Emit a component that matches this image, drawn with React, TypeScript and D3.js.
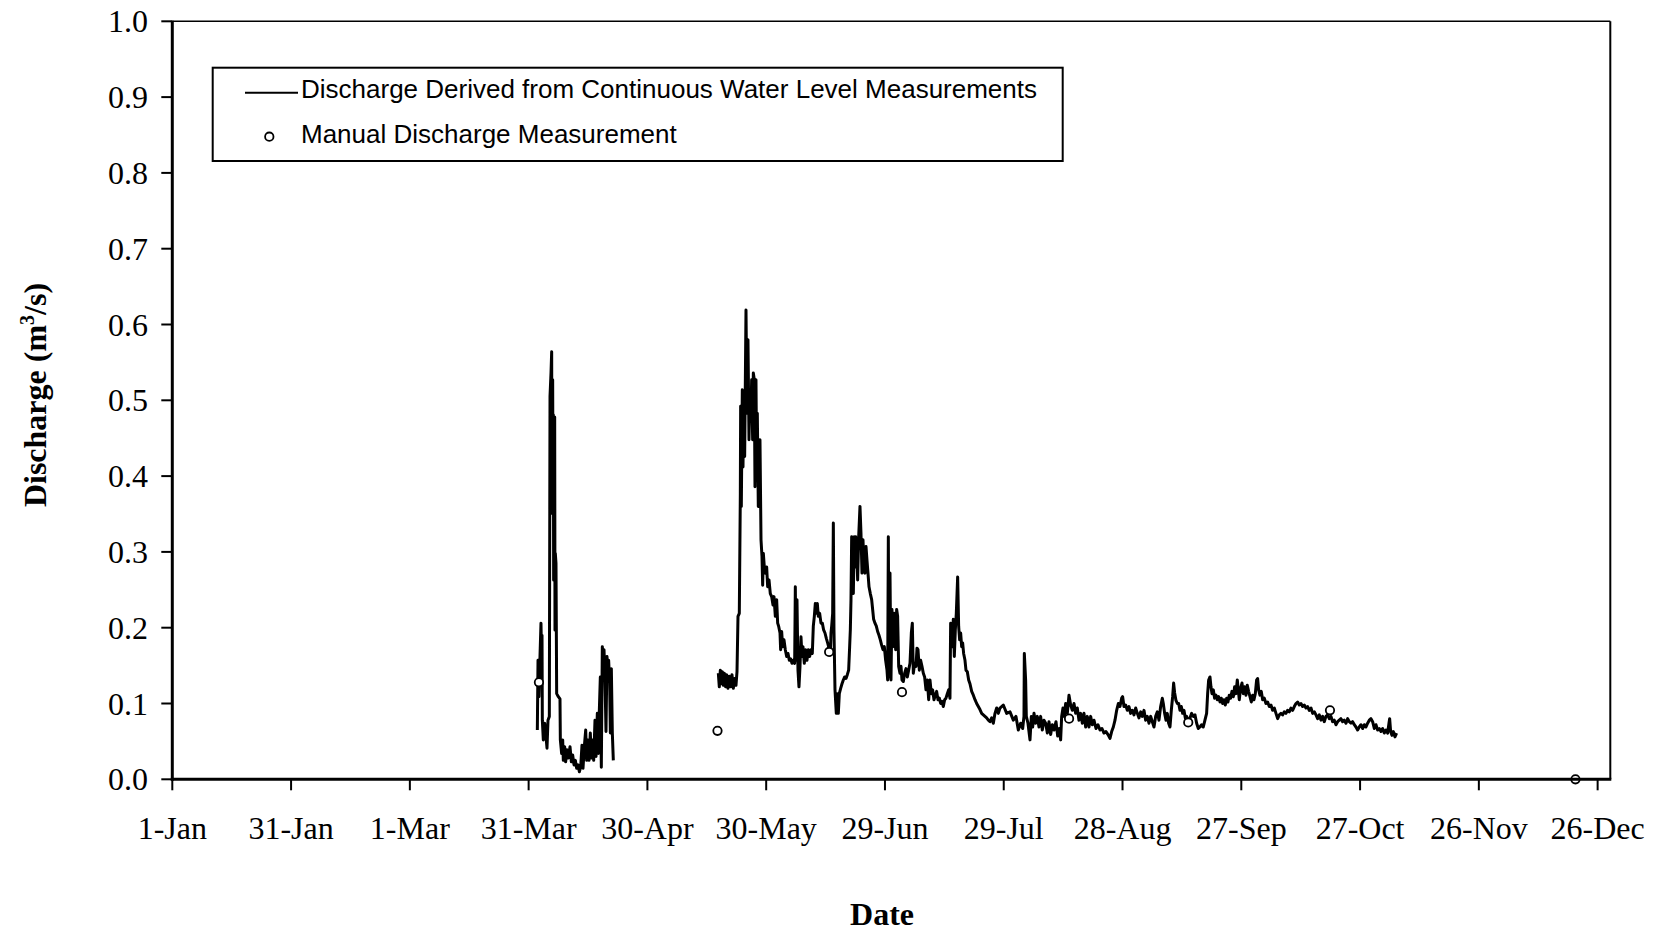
import React from "react";
import * as d3 from "d3";

// ---- data (day of year, 0 = 1-Jan; leap year) ----
const xTickDays = [0, 30, 60, 90, 120, 150, 180, 210, 240, 270, 300, 330, 360];
const xTickLabels = ["1-Jan", "31-Jan", "1-Mar", "31-Mar", "30-Apr", "30-May", "29-Jun", "29-Jul", "28-Aug", "27-Sep", "27-Oct", "26-Nov", "26-Dec"];
const yTicks = [0, 0.1, 0.2, 0.3, 0.4, 0.5, 0.6, 0.7, 0.8, 0.9, 1.0];

const aprilSeries: [number, number][] = [
  [92.20, 0.065], [92.37, 0.157], [92.6, 0.109], [92.87, 0.162], [93.12, 0.206], [93.29, 0.151], [93.38, 0.190],
  [93.46, 0.078], [93.71, 0.052], [94.05, 0.074], [94.39, 0.056], [94.64, 0.041], [94.89, 0.078], [95.23, 0.083],
  [95.40, 0.505], [95.65, 0.536], [95.82, 0.564], [95.90, 0.351], [96.07, 0.527], [96.15, 0.395], [96.24, 0.481],
  [96.32, 0.263], [96.41, 0.474], [96.49, 0.351], [96.58, 0.478], [96.66, 0.197], [96.74, 0.298], [96.91, 0.285],
  [97.08, 0.113], [97.50, 0.109], [97.92, 0.106], [98.01, 0.052], [98.34, 0.034], [98.60, 0.052], [98.76, 0.025],
  [99.10, 0.043], [99.35, 0.023], [99.69, 0.039], [100.03, 0.028], [100.45, 0.043], [100.79, 0.023], [101.12, 0.032],
  [101.46, 0.019], [101.80, 0.025], [102.13, 0.0145], [102.47, 0.019], [102.81, 0.010], [103.14, 0.016], [103.48, 0.045],
  [103.73, 0.0145], [104.07, 0.043], [104.41, 0.065], [104.66, 0.025], [104.99, 0.052], [105.25, 0.025], [105.58, 0.061],
  [105.84, 0.028], [106.17, 0.052], [106.43, 0.025], [106.76, 0.078], [107.02, 0.030], [107.35, 0.087], [107.60, 0.034],
  [107.86, 0.091], [108.11, 0.135], [108.36, 0.016], [108.61, 0.175], [108.87, 0.157], [109.04, 0.171], [109.29, 0.131],
  [109.54, 0.063], [109.79, 0.162], [110.05, 0.140], [110.21, 0.157], [110.47, 0.127], [110.64, 0.061], [110.89, 0.146],
  [111.14, 0.061], [111.39, 0.025],
];

const mayOctSeries: [number, number][] = [
  [137.91, 0.140], [138.16, 0.122], [138.42, 0.144], [138.67, 0.126], [138.92, 0.142], [139.17, 0.124], [139.43, 0.140],
  [139.76, 0.122], [140.01, 0.138], [140.35, 0.120], [140.69, 0.136], [141.03, 0.122], [141.36, 0.138], [141.70, 0.120],
  [142.04, 0.133], [142.37, 0.124], [142.63, 0.142], [142.88, 0.215], [143.21, 0.219], [143.47, 0.377], [143.55, 0.492],
  [143.72, 0.360], [143.97, 0.514], [144.14, 0.412], [144.31, 0.492], [144.56, 0.426], [144.90, 0.619], [145.15, 0.483],
  [145.40, 0.580], [145.66, 0.448], [145.91, 0.514], [146.16, 0.483], [146.33, 0.527], [146.58, 0.448], [146.75, 0.536],
  [147.00, 0.527], [147.17, 0.386], [147.42, 0.527], [147.59, 0.412], [147.76, 0.483], [148.01, 0.360], [148.27, 0.395],
  [148.43, 0.448], [148.69, 0.316], [148.94, 0.294], [149.11, 0.256], [149.28, 0.298], [149.53, 0.280], [149.78, 0.272],
  [150.12, 0.280], [150.37, 0.254], [150.71, 0.263], [151.04, 0.245], [151.38, 0.241], [151.72, 0.230], [151.97, 0.241],
  [152.31, 0.215], [152.64, 0.237], [152.90, 0.206], [153.15, 0.202], [153.49, 0.193], [153.65, 0.171], [153.91, 0.195],
  [154.16, 0.175], [154.50, 0.184], [154.83, 0.171], [155.17, 0.162], [155.51, 0.166], [155.84, 0.157], [156.18, 0.159],
  [156.52, 0.153], [156.85, 0.157], [157.19, 0.153], [157.36, 0.254], [157.53, 0.157], [157.78, 0.237], [158.03, 0.144],
  [158.28, 0.122], [158.54, 0.149], [158.79, 0.188], [159.04, 0.162], [159.29, 0.175], [159.63, 0.153], [159.97, 0.171],
  [160.30, 0.157], [160.64, 0.171], [160.98, 0.162], [161.32, 0.171], [161.65, 0.166], [161.90, 0.202], [162.16, 0.215],
  [162.41, 0.232], [162.66, 0.219], [162.91, 0.232], [163.17, 0.215], [163.50, 0.219], [163.84, 0.206], [164.18, 0.206],
  [164.51, 0.197], [164.85, 0.193], [165.19, 0.186], [165.52, 0.180], [165.86, 0.173], [166.20, 0.164], [166.37, 0.193],
  [166.54, 0.202], [166.79, 0.219], [166.96, 0.338], [167.12, 0.197], [167.38, 0.118], [167.71, 0.087], [167.97, 0.113],
  [168.22, 0.087], [168.47, 0.113], [168.81, 0.120], [169.15, 0.126], [169.48, 0.131], [169.82, 0.135], [170.16, 0.133],
  [170.49, 0.138], [170.83, 0.144], [171.08, 0.175], [171.25, 0.197], [171.42, 0.237], [171.59, 0.320], [171.84, 0.307],
  [172.01, 0.245], [172.26, 0.320], [172.43, 0.280], [172.60, 0.320], [172.85, 0.307], [173.10, 0.263], [173.36, 0.320],
  [173.69, 0.360], [173.94, 0.325], [174.20, 0.272], [174.45, 0.316], [174.70, 0.280], [174.95, 0.272], [175.21, 0.307],
  [175.46, 0.289], [175.71, 0.272], [175.97, 0.254], [176.30, 0.245], [176.64, 0.237], [176.89, 0.224], [177.14, 0.211],
  [177.48, 0.206], [177.82, 0.202], [178.15, 0.195], [178.49, 0.190], [178.83, 0.184], [179.16, 0.177], [179.50, 0.171],
  [179.84, 0.175], [180.17, 0.157], [180.51, 0.144], [180.68, 0.131], [180.85, 0.320], [181.01, 0.135], [181.27, 0.272],
  [181.52, 0.131], [181.77, 0.224], [182.02, 0.175], [182.36, 0.219], [182.70, 0.171], [182.95, 0.224], [183.20, 0.215],
  [183.46, 0.149], [183.79, 0.140], [184.05, 0.149], [184.30, 0.131], [184.64, 0.129], [184.97, 0.140], [185.31, 0.146],
  [185.65, 0.135], [185.98, 0.144], [186.32, 0.153], [186.66, 0.193], [186.91, 0.206], [187.16, 0.140], [187.50, 0.153],
  [187.84, 0.149], [188.09, 0.173], [188.34, 0.171], [188.68, 0.144], [189.01, 0.157], [189.35, 0.149], [189.69, 0.140],
  [190.02, 0.135], [190.36, 0.118], [190.70, 0.131], [191.04, 0.105], [191.37, 0.131], [191.71, 0.113], [192.04, 0.118],
  [192.38, 0.105], [192.72, 0.111], [193.05, 0.116], [193.39, 0.105], [193.73, 0.107], [194.07, 0.100], [194.40, 0.103],
  [194.74, 0.096], [195.08, 0.105], [195.41, 0.107], [195.75, 0.113], [196.09, 0.118], [196.42, 0.107], [196.59, 0.206],
  [196.84, 0.184], [197.01, 0.175], [197.26, 0.211], [197.52, 0.162], [197.77, 0.197], [198.02, 0.219], [198.36, 0.267],
  [198.61, 0.202], [198.86, 0.184], [199.12, 0.193], [199.37, 0.175], [199.62, 0.180], [199.87, 0.166], [200.21, 0.157],
  [200.46, 0.144], [200.80, 0.142], [201.14, 0.131], [201.47, 0.126], [201.90, 0.116], [202.32, 0.111], [202.74, 0.105],
  [203.16, 0.100], [203.58, 0.096], [204.00, 0.092], [204.42, 0.087], [204.84, 0.085], [205.26, 0.083], [205.68, 0.081],
  [206.11, 0.078], [206.53, 0.076], [206.95, 0.081], [207.37, 0.074], [207.79, 0.087], [208.21, 0.094], [208.63, 0.087],
  [209.05, 0.094], [209.89, 0.098], [210.74, 0.087], [211.58, 0.089], [212.42, 0.078], [213.09, 0.083], [213.68, 0.065],
  [214.27, 0.074], [214.78, 0.067], [215.11, 0.083], [215.20, 0.166], [215.53, 0.131], [215.70, 0.083], [216.12, 0.074],
  [216.63, 0.052], [216.97, 0.083], [217.30, 0.069], [217.64, 0.087], [218.06, 0.074], [218.48, 0.083], [218.90, 0.069],
  [219.32, 0.083], [219.74, 0.065], [220.16, 0.078], [220.59, 0.074], [221.01, 0.061], [221.43, 0.076], [221.85, 0.059],
  [222.27, 0.072], [222.69, 0.065], [223.20, 0.076], [223.62, 0.057], [224.04, 0.067], [224.37, 0.052], [224.63, 0.083],
  [224.96, 0.094], [225.30, 0.083], [225.64, 0.100], [226.06, 0.087], [226.48, 0.111], [226.90, 0.098], [227.32, 0.091],
  [227.74, 0.100], [228.16, 0.087], [228.58, 0.094], [229.00, 0.078], [229.43, 0.087], [229.85, 0.074], [230.27, 0.087],
  [230.69, 0.069], [231.11, 0.083], [231.53, 0.069], [231.95, 0.083], [232.37, 0.072], [232.79, 0.078], [233.30, 0.067],
  [233.80, 0.072], [234.31, 0.065], [234.81, 0.067], [235.32, 0.061], [235.82, 0.063], [236.33, 0.059], [236.83, 0.054],
  [237.26, 0.063], [237.68, 0.069], [238.10, 0.078], [238.52, 0.091], [238.94, 0.100], [239.36, 0.096], [239.78, 0.107],
  [240.03, 0.109], [240.37, 0.096], [240.79, 0.098], [241.21, 0.091], [241.63, 0.096], [242.05, 0.087], [242.47, 0.091],
  [242.90, 0.085], [243.32, 0.094], [243.74, 0.087], [244.16, 0.081], [244.58, 0.089], [245.00, 0.083], [245.42, 0.091],
  [245.84, 0.078], [246.26, 0.083], [246.68, 0.074], [247.11, 0.083], [247.53, 0.076], [247.95, 0.069], [248.37, 0.083],
  [248.79, 0.089], [249.21, 0.078], [249.63, 0.096], [250.05, 0.107], [250.30, 0.100], [250.64, 0.087], [250.98, 0.078],
  [251.31, 0.087], [251.65, 0.074], [251.99, 0.069], [252.32, 0.091], [252.66, 0.109], [252.91, 0.127], [253.17, 0.114],
  [253.50, 0.104], [253.84, 0.100], [254.18, 0.100], [254.51, 0.091], [254.85, 0.096], [255.19, 0.087], [255.52, 0.091],
  [255.86, 0.081], [256.20, 0.083], [256.62, 0.072], [257.04, 0.081], [257.46, 0.087], [257.88, 0.083], [258.30, 0.085],
  [258.72, 0.074], [259.14, 0.067], [259.56, 0.069], [259.98, 0.072], [260.40, 0.069], [260.82, 0.078], [261.24, 0.087],
  [261.50, 0.113], [261.75, 0.131], [262.09, 0.135], [262.34, 0.122], [262.59, 0.113], [262.93, 0.118], [263.26, 0.107],
  [263.60, 0.111], [263.94, 0.105], [264.27, 0.109], [264.61, 0.102], [264.95, 0.107], [265.28, 0.100], [265.62, 0.105],
  [265.96, 0.098], [266.30, 0.107], [266.63, 0.102], [266.97, 0.111], [267.31, 0.107], [267.64, 0.116], [267.98, 0.109],
  [268.32, 0.122], [268.65, 0.113], [268.99, 0.131], [269.24, 0.118], [269.49, 0.105], [269.83, 0.120], [270.17, 0.127],
  [270.50, 0.113], [270.84, 0.122], [271.18, 0.111], [271.51, 0.124], [271.85, 0.116], [272.19, 0.109], [272.53, 0.102],
  [272.86, 0.111], [273.20, 0.105], [273.54, 0.113], [273.87, 0.131], [274.12, 0.133], [274.38, 0.118], [274.71, 0.111],
  [275.05, 0.116], [275.39, 0.105], [275.81, 0.107], [276.23, 0.100], [276.65, 0.102], [277.07, 0.096], [277.49, 0.098],
  [277.91, 0.091], [278.33, 0.094], [278.76, 0.087], [279.18, 0.080], [279.60, 0.085], [280.02, 0.087], [280.44, 0.085],
  [280.86, 0.089], [281.28, 0.087], [281.70, 0.091], [282.12, 0.089], [282.54, 0.094], [282.96, 0.091], [283.39, 0.096],
  [283.81, 0.100], [284.23, 0.102], [284.65, 0.098], [285.07, 0.100], [285.49, 0.096], [285.91, 0.098], [286.33, 0.094],
  [286.75, 0.096], [287.17, 0.091], [287.60, 0.094], [288.02, 0.087], [288.44, 0.089], [288.86, 0.085], [289.28, 0.080],
  [289.70, 0.085], [290.12, 0.078], [290.54, 0.083], [290.96, 0.076], [291.38, 0.083], [291.81, 0.085], [292.23, 0.080],
  [292.65, 0.083], [293.07, 0.076], [293.49, 0.078], [293.91, 0.072], [294.33, 0.076], [294.75, 0.078], [295.17, 0.080],
  [295.59, 0.076], [296.01, 0.078], [296.44, 0.074], [296.86, 0.080], [297.28, 0.076], [297.70, 0.074], [298.12, 0.076],
  [298.54, 0.072], [298.96, 0.069], [299.38, 0.065], [299.80, 0.069], [300.22, 0.072], [300.64, 0.067], [301.07, 0.072],
  [301.49, 0.069], [301.91, 0.074], [302.33, 0.078], [302.75, 0.080], [303.17, 0.076], [303.59, 0.067], [304.01, 0.072],
  [304.43, 0.065], [304.85, 0.067], [305.28, 0.063], [305.70, 0.067], [306.12, 0.061], [306.54, 0.065], [306.96, 0.061],
  [307.30, 0.074], [307.47, 0.080], [307.72, 0.063], [308.05, 0.058], [308.39, 0.063], [308.81, 0.056], [309.23, 0.061],
];

const manualDays = [92.6, 137.7, 165.9, 184.3, 226.5, 256.6, 292.4, 354.4];
const manualValues = [0.128, 0.064, 0.168, 0.115, 0.080, 0.075, 0.091, 0.0];

const legendLabels = ["Discharge Derived from Continuous Water Level Measurements", "Manual Discharge Measurement"];

// ---- layout ----
const W = 1661;
const H = 934;
const left = 172.3;
const right = 1610.3;
const top = 21.3;
const bottom = 779.3;
const serif = "'Liberation Serif', 'Times New Roman', serif";
const sans = "'Liberation Sans', Arial, sans-serif";

export default function App() {
  const x = d3.scaleLinear().domain([0, 363.2]).range([left, right]);
  const y = d3.scaleLinear().domain([0, 1]).range([bottom, top]);
  const line = d3
    .line<[number, number]>()
    .x((d) => x(d[0]))
    .y((d) => y(d[1]));

  return (
    <div style={{ position: "absolute", left: 0, top: 0 }}>
      <svg width={W} height={H} style={{ display: "block", background: "#fff" }}>
        <rect x={0} y={0} width={W} height={H} fill="#fff" />
        {/* frame */}
        <line x1={left} x2={right} y1={top} y2={top} stroke="#000" strokeWidth={1.5} />
        <line x1={right} x2={right} y1={top} y2={bottom} stroke="#000" strokeWidth={2} />

        {/* data lines */}
        {[aprilSeries, mayOctSeries].map((s, i) => (
          <path key={i} d={line(s) || ""} fill="none" stroke="#000" strokeWidth={3} strokeLinejoin="round" />
        ))}

        {/* manual measurements */}
        {manualDays.map((d, i) => (
          <circle key={i} cx={x(d)} cy={y(manualValues[i])} r={4.2} fill="#fff" stroke="#000" strokeWidth={1.8} />
        ))}

        {/* axes */}
        <line x1={left} x2={left} y1={top - 0.5} y2={bottom + 1.5} stroke="#000" strokeWidth={3} />
        <line x1={left - 1.5} x2={right + 1} y1={bottom} y2={bottom} stroke="#000" strokeWidth={3} />

        {yTicks.map((t) => (
          <g key={"y" + t}>
            <line x1={left - 11} x2={left} y1={y(t)} y2={y(t)} stroke="#000" strokeWidth={2} />
            <text x={148} y={y(t) + 11} textAnchor="end" fontFamily={serif} fontSize={32} fill="#000">
              {t.toFixed(1)}
            </text>
          </g>
        ))}

        {xTickDays.map((d, i) => (
          <g key={"x" + d}>
            <line x1={x(d)} x2={x(d)} y1={bottom} y2={bottom + 11} stroke="#000" strokeWidth={2} />
            <text x={x(d)} y={839} textAnchor="middle" fontFamily={serif} fontSize={32} fill="#000">
              {xTickLabels[i]}
            </text>
          </g>
        ))}

        {/* axis titles */}
        <text x={882} y={925} textAnchor="middle" fontFamily={serif} fontSize={32} fontWeight="bold" fill="#000">
          Date
        </text>
        <text
          transform="translate(46,395) rotate(-90)"
          textAnchor="middle"
          fontFamily={serif}
          fontSize={32}
          fontWeight="bold"
          fill="#000"
        >
          Discharge (m
          <tspan fontSize={20} dy={-12}>3</tspan>
          <tspan dy={12}>/s)</tspan>
        </text>

        {/* legend */}
        <rect x={212.7} y={67.7} width={850} height={93.3} fill="#fff" stroke="#000" strokeWidth={2} />
        <line x1={245} x2={298} y1={92.7} y2={92.7} stroke="#000" strokeWidth={2} />
        <text x={301} y={98.3} fontFamily={sans} fontSize={26} fill="#000">
          {legendLabels[0]}
        </text>
        <circle cx={269.3} cy={136.7} r={4.2} fill="#fff" stroke="#000" strokeWidth={1.8} />
        <text x={301} y={143.3} fontFamily={sans} fontSize={26} fill="#000">
          {legendLabels[1]}
        </text>
      </svg>
    </div>
  );
}
